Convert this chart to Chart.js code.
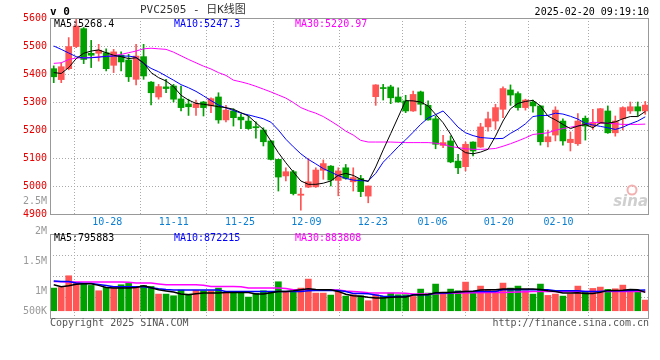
<!DOCTYPE html>
<html>
<head>
<meta charset="utf-8">
<script src="https://cdn.jsdelivr.net/npm/chart.js@4.4.1/dist/chart.umd.min.js"></script>
<style>
html, body { margin: 0; padding: 0; background: #fff; }
#wrap { position: relative; width: 660px; height: 360px; }
canvas { position: absolute; left: 0; top: 0; }
</style>
</head>
<body>
<div id="wrap">
  <canvas id="kline" width="660" height="360"></canvas>
  <canvas id="volumen" width="660" height="360"></canvas>
</div>
<script>
const fechas = [
    '10-23', '10-24', '10-25', '10-28', '10-29', '10-30', '10-31', '11-01', '11-04', '11-05',
    '11-06', '11-07', '11-08', '11-11', '11-12', '11-13', '11-14', '11-15', '11-18', '11-19',
    '11-20', '11-21', '11-22', '11-25', '11-26', '11-27', '11-28', '11-29', '12-02', '12-03',
    '12-04', '12-05', '12-06', '12-09', '12-10', '12-11', '12-12', '12-13', '12-16', '12-17',
    '12-18', '12-19', '12-20', '12-23', '12-24', '12-25', '12-26', '12-27', '12-30', '12-31',
    '01-02', '01-03', '01-06', '01-07', '01-08', '01-09', '01-10', '01-13', '01-14', '01-15',
    '01-16', '01-17', '01-20', '01-21', '01-22', '01-23', '01-24', '01-27', '02-05', '02-06',
    '02-07', '02-10', '02-11', '02-12', '02-13', '02-14', '02-17', '02-18', '02-19', '02-20'
];
const etiquetasX = [3, 13, 23, 33, 43, 52, 62, 71];

const apertura = [
    5419, 5380, 5419, 5498, 5562, 5474, 5474, 5476, 5431, 5467,
    5450, 5381, 5462, 5371, 5318, 5354, 5357, 5311, 5293, 5280,
    5300, 5286, 5318, 5236, 5268, 5246, 5232, 5212, 5200, 5161,
    5095, 5036, 5051, 4967, 4996, 4997, 5056, 5071, 5020, 5065,
    5015, 5027, 4964, 5319, 5351, 5354, 5318, 5304, 5268, 5336,
    5288, 5240, 5145, 5161, 5089, 5069, 5157, 5139, 5211, 5232,
    5274, 5343, 5330, 5280, 5300, 5286, 5158, 5182, 5232, 5155,
    5151, 5242, 5214, 5224, 5268, 5190, 5240, 5268, 5283, 5268
];
const maximo = [
    5429, 5440, 5530, 5598, 5566, 5520, 5506, 5490, 5488, 5479,
    5470, 5506, 5506, 5373, 5363, 5381, 5363, 5357, 5310, 5307,
    5302, 5315, 5333, 5288, 5276, 5256, 5250, 5229, 5208, 5162,
    5096, 5065, 5056, 4992, 5098, 5065, 5093, 5073, 5065, 5077,
    5065, 5038, 5000, 5362, 5363, 5360, 5351, 5324, 5339, 5339,
    5304, 5250, 5181, 5179, 5113, 5157, 5158, 5224, 5264, 5292,
    5354, 5361, 5336, 5310, 5307, 5287, 5200, 5283, 5240, 5193,
    5259, 5250, 5274, 5277, 5286, 5250, 5283, 5300, 5300, 5302
];
const minimo = [
    5369, 5369, 5415, 5494, 5437, 5423, 5446, 5411, 5405, 5411,
    5373, 5361, 5381, 5290, 5310, 5333, 5300, 5268, 5252, 5252,
    5250, 5262, 5224, 5229, 5214, 5205, 5202, 5171, 5143, 5093,
    4982, 5018, 4968, 4914, 4994, 4995, 5024, 5000, 4965, 5024,
    4982, 4962, 4940, 5288, 5307, 5294, 5299, 5262, 5266, 5254,
    5235, 5133, 5137, 5083, 5044, 5054, 5107, 5138, 5196, 5202,
    5244, 5288, 5271, 5271, 5264, 5146, 5140, 5161, 5146, 5125,
    5145, 5164, 5202, 5223, 5188, 5178, 5200, 5259, 5250, 5256
];
const cierre = [
    5390, 5426, 5498, 5571, 5452, 5467, 5485, 5419, 5479, 5443,
    5390, 5464, 5393, 5333, 5355, 5348, 5310, 5280, 5283, 5294,
    5280, 5312, 5236, 5271, 5244, 5236, 5205, 5208, 5158, 5095,
    5032, 5051, 4973, 4971, 5015, 5057, 5080, 5021, 5054, 5027,
    5030, 4980, 5000, 5361, 5348, 5315, 5300, 5268, 5327, 5292,
    5236, 5149, 5155, 5086, 5065, 5149, 5125, 5211, 5240, 5280,
    5348, 5325, 5280, 5307, 5286, 5158, 5176, 5271, 5161, 5167,
    5232, 5214, 5226, 5276, 5190, 5232, 5280, 5283, 5268, 5289
];

const ma5 = [
    5405, 5402, 5423, 5455, 5474, 5482, 5486, 5476, 5467, 5462,
    5455, 5458, 5440, 5405, 5387, 5375, 5355, 5324, 5307, 5295,
    5292, 5288, 5283, 5280, 5274, 5262, 5250, 5226, 5202, 5161,
    5119, 5083, 5050, 5018, 5006, 5006, 5010, 5018, 5038, 5045,
    5038, 5024, 5016, 5068, 5129, 5187, 5246, 5305, 5304, 5300,
    5286, 5256, 5226, 5185, 5137, 5119, 5115, 5121, 5131, 5178,
    5232, 5276, 5295, 5302, 5306, 5286, 5250, 5236, 5220, 5205,
    5214, 5220, 5208, 5226, 5224, 5229, 5240, 5248, 5248, 5266
];
const ma10 = [
    5500, 5488, 5475, 5462, 5457, 5458, 5460, 5463, 5464, 5464,
    5464, 5460, 5437, 5420, 5408, 5393, 5378, 5362, 5351, 5338,
    5322, 5305, 5289, 5279, 5270, 5260, 5254, 5247, 5240, 5228,
    5200, 5167, 5140, 5115, 5095, 5079, 5062, 5050, 5037, 5027,
    5021, 5019, 5018, 5045, 5085, 5112, 5140, 5165, 5192, 5220,
    5243, 5255, 5268, 5240, 5210, 5190, 5180, 5173, 5171, 5169,
    5170, 5188, 5203, 5222, 5248, 5252, 5252, 5260, 5257, 5249,
    5239, 5224, 5218, 5213, 5208, 5202, 5210, 5222, 5232, 5247
];
const ma30 = [
    5438, 5440, 5452, 5457, 5458, 5459, 5461, 5463, 5466, 5470,
    5476, 5482, 5490, 5492, 5490, 5488, 5478, 5465, 5452, 5440,
    5428, 5418, 5405, 5395, 5378, 5372, 5365, 5356, 5346, 5336,
    5325, 5314, 5298, 5280, 5269, 5260, 5248, 5232, 5215, 5196,
    5182, 5163, 5157, 5157, 5157, 5157, 5156, 5155, 5155, 5155,
    5155, 5153, 5149, 5141, 5137, 5133, 5131, 5131, 5132, 5134,
    5142, 5151, 5161, 5172, 5184, 5187, 5190, 5199, 5205, 5210,
    5215, 5221, 5228, 5226, 5224, 5222, 5220, 5220, 5220, 5221
];

// volumen en miles
const volumen = [
    937, 965, 1448, 1172, 1103, 1048, 827, 965, 937, 1075,
    1131, 1007, 1048, 1007, 689, 689, 620, 854, 689, 841,
    827, 827, 937, 730, 730, 730, 565, 717, 827, 772,
    1199, 800, 800, 937, 1310, 730, 730, 648, 800, 606,
    662, 620, 414, 662, 593, 730, 662, 662, 593, 896,
    730, 1103, 703, 896, 827, 1185, 800, 1020, 869, 827,
    1144, 937, 1020, 827, 689, 1103, 635, 689, 606, 703,
    1020, 800, 924, 979, 883, 910, 1061, 800, 800, 441
];
const vma5 = [
    1076, 994, 1030, 1100, 1118, 1118, 1049, 960, 938, 938,
    938, 960, 1035, 950, 870, 820, 773, 690, 662, 700,
    731, 731, 731, 759, 759, 759, 759, 690, 690, 740,
    800, 800, 828, 870, 911, 880, 869, 869, 800, 680,
    620, 600, 560, 530, 530, 560, 566, 570, 650, 662,
    670, 740, 760, 760, 780, 800, 810, 860, 869, 869,
    897, 897, 897, 897, 897, 880, 828, 800, 731, 731,
    740, 718, 718, 760, 842, 842, 850, 883, 870, 760
];
const vma10 = [
    1230, 1214, 1214, 1150, 1132, 1132, 1090, 1049, 994, 994,
    994, 994, 994, 950, 911, 880, 856, 856, 856, 856,
    856, 856, 856, 800, 800, 800, 800, 800, 800, 800,
    800, 800, 800, 800, 828, 842, 842, 842, 842, 800,
    718, 718, 700, 650, 600, 593, 593, 593, 662, 662,
    662, 731, 731, 731, 790, 800, 800, 800, 800, 800,
    869, 869, 869, 869, 869, 869, 869, 828, 828, 828,
    828, 800, 800, 800, 828, 828, 828, 840, 850, 860
];
const vma30 = [
    1214, 1200, 1190, 1187, 1187, 1187, 1187, 1187, 1187, 1187,
    1180, 1150, 1145, 1145, 1110, 1076, 1076, 1076, 1076, 1076,
    1050, 1007, 1007, 1007, 1007, 990, 938, 938, 938, 938,
    938, 920, 869, 869, 869, 869, 869, 869, 860, 820,
    800, 780, 740, 731, 731, 731, 731, 720, 690, 690,
    690, 700, 710, 720, 731, 731, 740, 745, 759, 759,
    759, 770, 780, 790, 800, 800, 800, 800, 800, 800,
    800, 800, 800, 800, 800, 800, 800, 800, 800, 800
];

const etiquetasVol = ['2.5M', '2M', '1.5M', '1M', '500K'];
const valoresVol = [2500, 2000, 1500, 1000, 500];

const ROJO = '#ff5555';
const VERDE = '#00a000';
const MONO = "'DejaVu Sans Mono', monospace";

const colores = cierre.map((c, i) => c >= apertura[i] ? ROJO : VERDE);
const mechas = minimo.map((l, i) => [l, maximo[i]]);
const cuerpos = apertura.map((o, i) => [Math.min(o, cierre[i]), Math.max(o, cierre[i])]);

function rejillaX(scale) {
    scale.ticks = etiquetasX.map(v => ({ value: v }));
}

const marco = {
    id: 'marco',
    afterDraw(chart) {
        const a = chart.chartArea;
        const ctx = chart.ctx;
        ctx.save();
        ctx.strokeStyle = '#999';
        ctx.lineWidth = 1;
        ctx.strokeRect(a.left + 0.5, a.top + 0.5, a.right - a.left - 1, a.bottom - a.top);
        ctx.restore();
    }
};

const textosK = {
    id: 'textosK',
    beforeDatasetsDraw(chart) {
        const ctx = chart.ctx;
        const a = chart.chartArea;
        ctx.save();
        // marca de agua sina
        ctx.font = 'italic bold 15px "DejaVu Sans", sans-serif';
        ctx.fillStyle = '#cfcfcf';
        ctx.textAlign = 'right';
        ctx.textBaseline = 'alphabetic';
        ctx.fillText('sina', a.right - 1, a.bottom - 8);
        ctx.strokeStyle = '#f2b0b0';
        ctx.lineWidth = 2;
        ctx.beginPath();
        ctx.arc(a.right - 17, a.bottom - 24, 4.5, 0, Math.PI * 2);
        ctx.stroke();
        ctx.restore();
    },
    afterDraw(chart) {
        const ctx = chart.ctx;
        const a = chart.chartArea;
        ctx.save();
        ctx.textBaseline = 'middle';
        ctx.textAlign = 'left';
        ctx.fillStyle = '#000';
        ctx.font = 'bold 11px ' + MONO;
        ctx.fillText('v 0', 50, 12);
        ctx.fillStyle = '#333';
        ctx.font = "11px 'DejaVu Sans Mono', 'Noto Sans CJK SC', monospace";
        ctx.fillText('PVC2505 - 日K线图', 140, 10);
        ctx.fillStyle = '#000';
        ctx.font = '10px ' + MONO;
        ctx.textAlign = 'right';
        ctx.fillText('2025-02-20 09:19:10', a.right, 12);
        ctx.textAlign = 'left';
        ctx.fillText('MA5:5268.4', 54, a.top + 6);
        ctx.fillStyle = '#0000ff';
        ctx.fillText('MA10:5247.3', 174, a.top + 6);
        ctx.fillStyle = '#ff00ff';
        ctx.fillText('MA30:5220.97', 295, a.top + 6);
        ctx.restore();
    }
};

const textosVol = {
    id: 'textosVol',
    afterDraw(chart) {
        const ctx = chart.ctx;
        const a = chart.chartArea;
        ctx.save();
        ctx.font = '10px ' + MONO;
        ctx.textBaseline = 'middle';
        ctx.textAlign = 'left';
        ctx.fillStyle = '#000';
        ctx.fillText('MA5:795883', 54, a.top + 4);
        ctx.fillStyle = '#0000ff';
        ctx.fillText('MA10:872215', 174, a.top + 4);
        ctx.fillStyle = '#ff00ff';
        ctx.fillText('MA30:883808', 295, a.top + 4);
        // eje de volumen tal como lo dibuja sina
        ctx.fillStyle = '#999';
        ctx.textAlign = 'right';
        valoresVol.forEach((v, i) => {
            const y = Math.min(a.bottom - 27 - (v - 1000) / 500 * 30, a.bottom - 7);
            ctx.fillText(etiquetasVol[i], a.left - 3, y);
        });
        ctx.fillStyle = '#555';
        ctx.textAlign = 'left';
        ctx.fillText('Copyright 2025 SINA.COM', a.left, a.bottom + 5);
        ctx.textAlign = 'right';
        ctx.fillText('http://finance.sina.com.cn', a.right, a.bottom + 5);
        ctx.restore();
    }
};

const lineaMA = (data, color, ancho) => ({
    type: 'line', data: data, borderColor: color, borderWidth: ancho,
    pointRadius: 0, tension: 0, xAxisID: 'x', order: 0
});

const rejilla = { color: '#aaa', drawTicks: false };
const borde = { display: false, dash: [1, 2] };

new Chart(document.getElementById('kline'), {
    type: 'bar',
    data: {
        labels: fechas,
        datasets: [
            lineaMA(ma5, '#000000', 1),
            lineaMA(ma10, '#0000ff', 1),
            lineaMA(ma30, '#ff00ff', 1),
            { data: cuerpos, backgroundColor: colores, barThickness: 6, minBarLength: 1, grouped: false, xAxisID: 'x', order: 1 },
            { data: mechas, backgroundColor: colores, barThickness: 1, grouped: false, xAxisID: 'x', order: 2 }
        ]
    },
    options: {
        responsive: false,
        animation: false,
        devicePixelRatio: 1,
        layout: { padding: { top: 18, right: 11, bottom: 132, left: 0 } },
        plugins: { legend: { display: false }, tooltip: { enabled: false } },
        scales: {
            x: { display: false, offset: true },
            xg: {
                type: 'linear', axis: 'x', position: 'bottom', min: 0, max: fechas.length - 1,
                afterBuildTicks: rejillaX,
                afterFit: s => { s.height = 14; },
                grid: rejilla, border: borde,
                ticks: {
                    color: '#0a7fd2', font: { family: MONO, size: 10 }, padding: 2,
                    maxRotation: 0, autoSkip: false, callback: v => fechas[v]
                }
            },
            y: {
                min: 4900, max: 5600,
                afterFit: s => { s.width = 50; },
                grid: rejilla, border: borde,
                ticks: {
                    stepSize: 100, color: '#e60000', font: { family: MONO, size: 10 }, padding: 3,
                    callback: v => String(v)
                }
            }
        }
    },
    plugins: [marco, textosK]
});

new Chart(document.getElementById('volumen'), {
    type: 'bar',
    data: {
        labels: fechas,
        datasets: [
            lineaMA(vma5, '#000000', 1.5),
            lineaMA(vma10, '#0000ff', 1.5),
            lineaMA(vma30, '#ff00ff', 1.5),
            { data: volumen, backgroundColor: colores, barThickness: 6, xAxisID: 'x', order: 1 }
        ]
    },
    options: {
        responsive: false,
        animation: false,
        devicePixelRatio: 1,
        layout: { padding: { top: 234, right: 11, bottom: 42, left: 0 } },
        plugins: { legend: { display: false }, tooltip: { enabled: false } },
        scales: {
            x: { display: false, offset: true },
            xg: {
                type: 'linear', axis: 'x', position: 'bottom', min: 0, max: fechas.length - 1,
                afterBuildTicks: rejillaX,
                afterFit: s => { s.height = 0; },
                grid: rejilla, border: borde,
                ticks: { display: false }
            },
            y: {
                min: -300, max: 3175,
                afterBuildTicks: s => {
                    s.ticks = [1, 2, 3].map(k => ({ value: s.min + k * (s.max - s.min) / 4 }));
                },
                afterFit: s => { s.width = 50; },
                grid: rejilla, border: borde,
                ticks: { display: false }
            }
        }
    },
    plugins: [marco, textosVol]
});
</script>
</body>
</html>
